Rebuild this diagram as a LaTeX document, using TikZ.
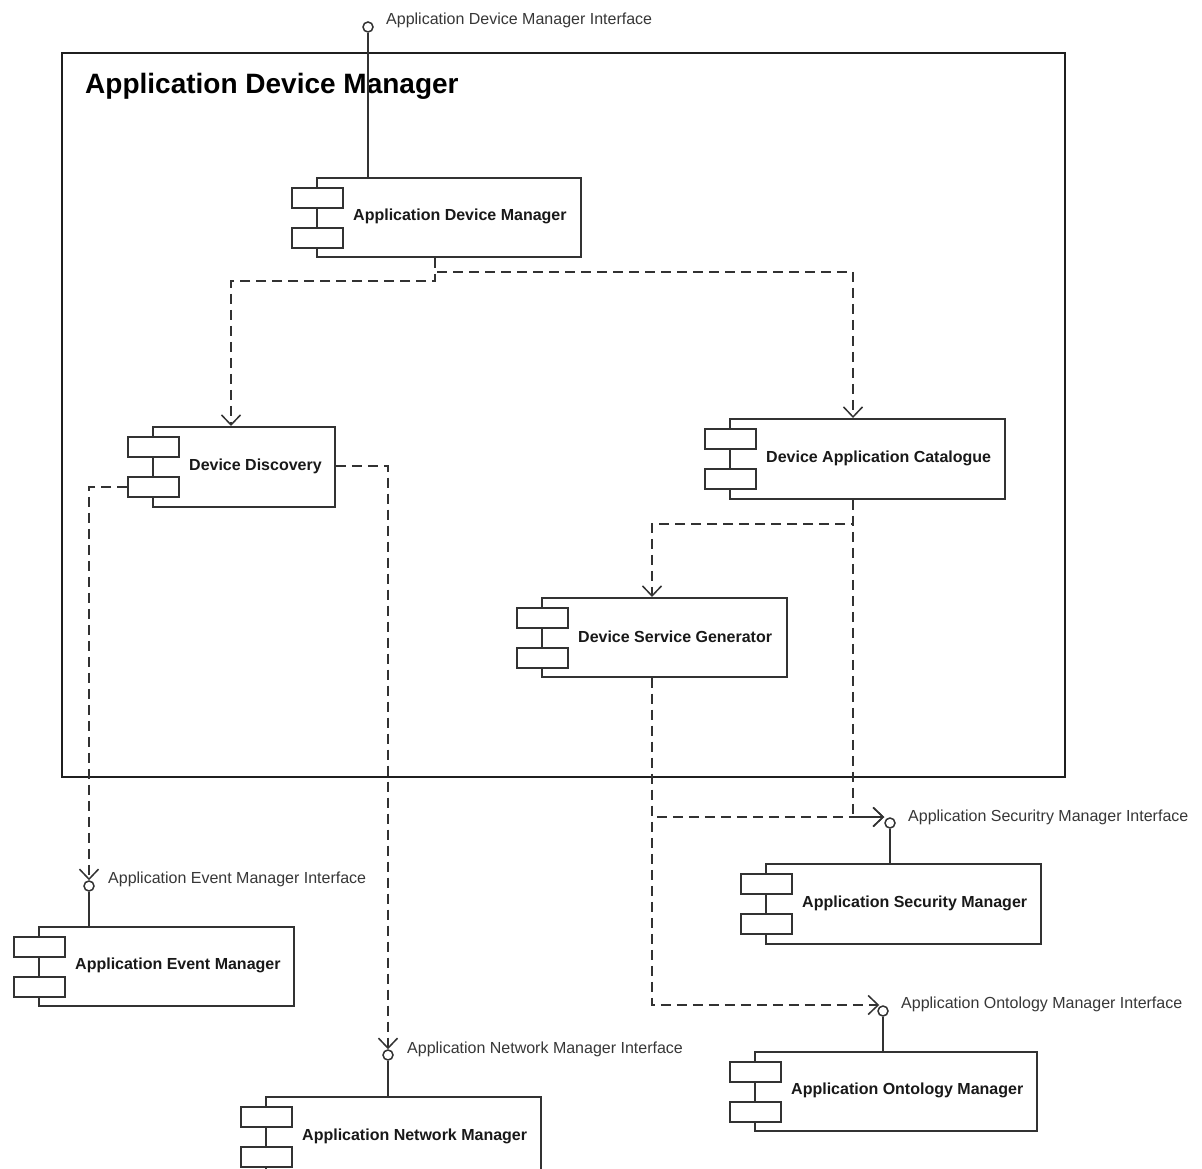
\documentclass[tikz,border=0pt]{standalone}
\usepackage{fontspec}
\setmainfont{Liberation Sans}
\usetikzlibrary{arrows.meta,calc}

\definecolor{ink}{RGB}{50,50,50}
\definecolor{txt}{RGB}{25,25,25}
\definecolor{lbltxt}{RGB}{55,55,55}

\tikzset{
  frame/.style={draw=black!88, line width=2.4pt, inner sep=0pt},
  compbox/.style={draw=ink, line width=1.8pt, fill=white, inner sep=0pt},
  portbox/.style={compbox, minimum width=51pt, minimum height=20pt},
  comptext/.style={font=\fontsize{16}{19}\selectfont\bfseries, text=txt, inner sep=0pt, anchor=west},
  titletext/.style={font=\fontsize{28}{33}\selectfont\bfseries, text=black, inner sep=0pt, anchor=west},
  lbl/.style={font=\fontsize{16}{19}\selectfont, text=lbltxt, inner sep=0pt, anchor=west},
  iface/.style={circle, draw=ink, line width=1.5pt, fill=white, minimum size=10pt, inner sep=0pt},
  wire/.style={draw=ink, line width=1.8pt},
  dep/.style={draw=ink, line width=1.8pt, dash pattern=on 10pt off 6pt,
    -{Straight Barb[length=10pt,width=19pt,line width=1.5pt]}},
}

% UML component: name, left x, top y, width, height, caption
\newcommand\umlcomp[6]{%
  \node[compbox, minimum width=#4pt, minimum height=#5pt, anchor=north west] (#1) at (#2,#3) {};
  \node[portbox, anchor=north west] (#1-a) at ([xshift=-25pt,yshift=-10pt]#1.north west) {};
  \node[portbox, anchor=north west] (#1-b) at ([xshift=-25pt,yshift=-50pt]#1.north west) {};
  \node[comptext] (#1-t) at ([xshift=37pt,yshift=1pt]#1.west) {#6};
}

\begin{document}
\begin{tikzpicture}[x=1pt, y=-1pt]
  \fill[white] (0,0) rectangle (1202,1169);
  \useasboundingbox (0,0) rectangle (1202,1169);
  \clip (0,0) rectangle (1202,1169);

  % enclosing subsystem
  \node[frame, minimum width=1003pt, minimum height=724pt, anchor=north west] (sys) at (61,52) {};
  \node[titletext] (sys-t) at ([xshift=24pt,yshift=-34pt]sys.north west) {Application Device Manager};

  % components
  \umlcomp{adm}{316}{177}{264}{79}{Application Device Manager}
  \umlcomp{dd}{152}{426}{182}{80}{Device Discovery}
  \umlcomp{dac}{729}{418}{275}{80}{Device Application Catalogue}
  \umlcomp{dsg}{541}{597}{245}{79}{Device Service Generator}
  \umlcomp{asm}{765}{863}{275}{80}{Application Security Manager}
  \umlcomp{aem}{38}{926}{255}{79}{Application Event Manager}
  \umlcomp{aom}{754}{1051}{282}{79}{Application Ontology Manager}
  \umlcomp{anm}{265}{1096}{275}{80}{Application Network Manager}

  % provided interfaces
  \node[iface] (i-adm) at (368,27) {};
  \node[iface] (i-aem) at (89,886) {};
  \node[iface] (i-anm) at (388,1055) {};
  \node[iface] (i-asm) at (890,823) {};
  \node[iface] (i-aom) at (883,1011) {};

  \node[lbl] (i-adm-l) at (386,20) {Application Device Manager Interface};
  \node[lbl] (i-aem-l) at (108,879) {Application Event Manager Interface};
  \node[lbl] (i-anm-l) at (407,1049) {Application Network Manager Interface};
  \node[lbl] (i-asm-l) at (908,817) {Application Securitry Manager Interface};
  \node[lbl] (i-aom-l) at (901,1004) {Application Ontology Manager Interface};

  % lollipop stems
  \draw[wire] (i-adm.south) -- (i-adm.south |- adm.north);
  \draw[wire] (i-aem.south) -- (i-aem.south |- aem.north);
  \draw[wire] (i-anm.south) -- (i-anm.south |- anm.north);
  \draw[wire] (i-asm.south) -- (i-asm.south |- asm.north);
  \draw[wire] (i-aom.south) -- (i-aom.south |- aom.north);

  % dependencies
  \draw[dep] ([xshift=119pt]adm.south west) -- ++(0,23) -| ([xshift=79pt]dd.north west);
  \draw[dep] ([xshift=119pt]adm.south west) -- ++(0,14) -| ([xshift=124pt]dac.north west);
  \draw[dep] (dd-b.west) -| (i-aem.north);
  \draw[dep] ([yshift=1pt]dd.east) -| (i-anm.north);
  \draw[dep] ([xshift=124pt]dac.south west) -- ++(0,24) -| ([xshift=111pt]dsg.north west);
  \draw[dep] ([xshift=124pt]dac.south west) |- ($(i-asm.west)+(0,-6)$);
  \draw[dep] ([xshift=111pt]dsg.south west) |- ($(i-asm.west)+(0,-6)$);
  \draw[dep] ([xshift=111pt]dsg.south west) |- ($(i-aom.west)+(2,-6)$);
\end{tikzpicture}
\end{document}
